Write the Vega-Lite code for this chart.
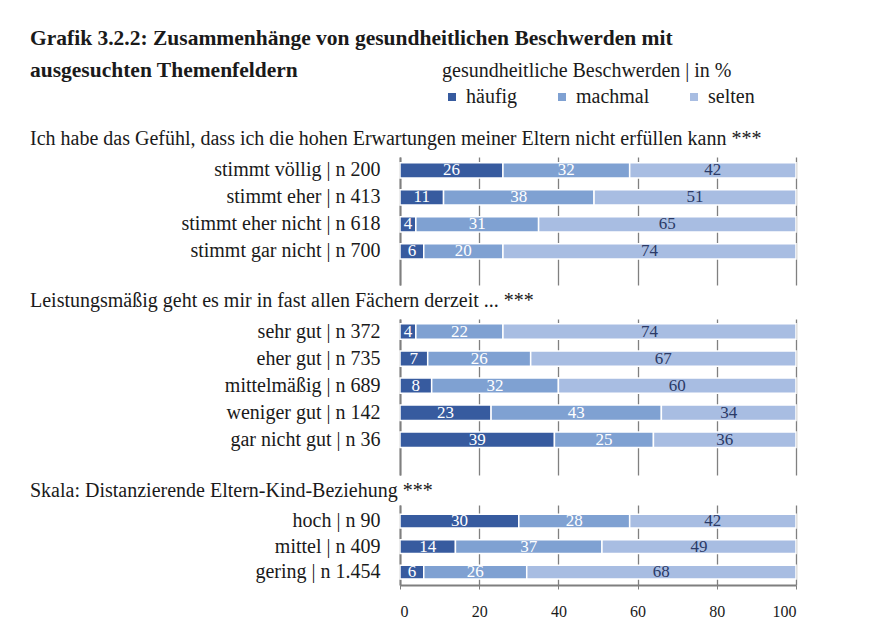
{
  "$schema": "https://vega.github.io/schema/vega-lite/v6.json",
  "padding": {"left": 30, "top": 27, "right": 5, "bottom": 5},
  "background": "white",
  "title": {
    "text": ["Grafik 3.2.2: Zusammenhänge von gesundheitlichen Beschwerden mit", "ausgesuchten Themenfeldern"],
    "anchor": "start", "frame": "group", "dx": -370, "dy": 30, "fontSize": 21.5, "fontWeight": "bold", "lineHeight": 32, "color": "#1a1a1a", "font": "Liberation Serif", "offset": 10
  },
  "datasets": {
    "d": [
      {"g": 1, "c": "stimmt völlig  | n 200", "t": "häufig", "v": 26},
      {"g": 1, "c": "stimmt völlig  | n 200", "t": "machmal", "v": 32},
      {"g": 1, "c": "stimmt völlig  | n 200", "t": "selten", "v": 42},
      {"g": 1, "c": "stimmt eher  | n 413", "t": "häufig", "v": 11},
      {"g": 1, "c": "stimmt eher  | n 413", "t": "machmal", "v": 38},
      {"g": 1, "c": "stimmt eher  | n 413", "t": "selten", "v": 51},
      {"g": 1, "c": "stimmt eher nicht | n 618", "t": "häufig", "v": 4},
      {"g": 1, "c": "stimmt eher nicht | n 618", "t": "machmal", "v": 31},
      {"g": 1, "c": "stimmt eher nicht | n 618", "t": "selten", "v": 65},
      {"g": 1, "c": "stimmt gar nicht | n 700", "t": "häufig", "v": 6},
      {"g": 1, "c": "stimmt gar nicht | n 700", "t": "machmal", "v": 20},
      {"g": 1, "c": "stimmt gar nicht | n 700", "t": "selten", "v": 74},
      {"g": 2, "c": "sehr gut | n 372", "t": "häufig", "v": 4},
      {"g": 2, "c": "sehr gut | n 372", "t": "machmal", "v": 22},
      {"g": 2, "c": "sehr gut | n 372", "t": "selten", "v": 74},
      {"g": 2, "c": "eher gut | n 735", "t": "häufig", "v": 7},
      {"g": 2, "c": "eher gut | n 735", "t": "machmal", "v": 26},
      {"g": 2, "c": "eher gut | n 735", "t": "selten", "v": 67},
      {"g": 2, "c": "mittelmäßig | n 689", "t": "häufig", "v": 8},
      {"g": 2, "c": "mittelmäßig | n 689", "t": "machmal", "v": 32},
      {"g": 2, "c": "mittelmäßig | n 689", "t": "selten", "v": 60},
      {"g": 2, "c": "weniger gut  | n 142", "t": "häufig", "v": 23},
      {"g": 2, "c": "weniger gut  | n 142", "t": "machmal", "v": 43},
      {"g": 2, "c": "weniger gut  | n 142", "t": "selten", "v": 34},
      {"g": 2, "c": "gar nicht gut | n 36", "t": "häufig", "v": 39},
      {"g": 2, "c": "gar nicht gut | n 36", "t": "machmal", "v": 25},
      {"g": 2, "c": "gar nicht gut | n 36", "t": "selten", "v": 36},
      {"g": 3, "c": "hoch | n 90", "t": "häufig", "v": 30},
      {"g": 3, "c": "hoch | n 90", "t": "machmal", "v": 28},
      {"g": 3, "c": "hoch | n 90", "t": "selten", "v": 42},
      {"g": 3, "c": "mittel | n 409", "t": "häufig", "v": 14},
      {"g": 3, "c": "mittel | n 409", "t": "machmal", "v": 37},
      {"g": 3, "c": "mittel | n 409", "t": "selten", "v": 49},
      {"g": 3, "c": "gering | n 1.454", "t": "häufig", "v": 6},
      {"g": 3, "c": "gering | n 1.454", "t": "machmal", "v": 26},
      {"g": 3, "c": "gering | n 1.454", "t": "selten", "v": 68}
    ]
  },
  "data": {"name": "d"},
  "spacing": 6,
  "vconcat": [
    {
      "width": 396, "height": 128,
      "title": {"text": "Ich habe das Gefühl, dass ich die hohen Erwartungen meiner Eltern nicht erfüllen kann ***", "anchor": "start", "frame": "group", "dx": -370, "offset": 8, "fontSize": 20, "fontWeight": "normal", "color": "#1a1a1a", "font": "Liberation Serif"},
      "transform": [
        {"filter": "datum.g == 1"},
        {"stack": "v", "groupby": ["c"], "sort": [{"field": "t"}], "as": ["v0", "v1"]},
        {"calculate": "(datum.v0 + datum.v1) / 2", "as": "m"}
      ],
      "encoding": {
        "y": {"field": "c", "type": "nominal", "sort": ["stimmt völlig  | n 200", "stimmt eher  | n 413", "stimmt eher nicht | n 618", "stimmt gar nicht | n 700"],
          "scale": {"paddingInner": 0.43, "paddingOuter": 0.585, "align": 0.18},
          "axis": {"title": null, "ticks": false, "domainColor": "#7f7f7f", "domainWidth": 2, "labelFont": "Liberation Serif", "labelFontSize": 20, "labelColor": "#1a1a1a", "labelPadding": 20, "labelLimit": 400}}
      },
      "layer": [
        {
          "mark": {"type": "bar", "stroke": "white", "strokeWidth": 1.5},
          "encoding": {
            "x": {"field": "v0", "type": "quantitative", "scale": {"domain": [0, 100]},
              "axis": {"title": null, "labels": false, "ticks": false, "domain": false, "grid": true, "gridColor": "#808080", "gridWidth": 1.3, "values": [0, 20, 40, 60, 80, 100]}},
            "x2": {"field": "v1"},
            "color": {"field": "t", "type": "nominal", "scale": {"domain": ["häufig", "machmal", "selten"], "range": ["#375B9F", "#7FA1D2", "#A8BDE2"]},
              "legend": {"orient": "none", "legendX": 42, "legendY": -96, "direction": "horizontal", "title": "gesundheitliche Beschwerden | in %", "titleLimit": 500, "symbolType": "square", "symbolSize": 64, "symbolStrokeWidth": 0, "labelOffset": 4, "labelFont": "Liberation Serif", "labelFontSize": 20, "labelColor": "#1a1a1a", "titleFont": "Liberation Serif", "titleFontSize": 20, "titleFontWeight": "normal", "titleColor": "#1a1a1a", "columnPadding": 34, "titlePadding": 6}}
          }
        },
        {
          "mark": {"type": "text", "font": "Liberation Serif", "fontSize": 17, "baseline": "middle"},
          "encoding": {
            "x": {"field": "m", "type": "quantitative"},
            "text": {"field": "v"},
            "color": {"condition": {"test": "datum.t == 'selten'", "value": "#2B3A67"}, "value": "white"}
          }
        }
      ]
    },
    {
      "width": 396, "height": 156,
      "title": {"text": "Leistungsmäßig geht es mir in fast allen Fächern derzeit ... ***", "anchor": "start", "frame": "group", "dx": -370, "offset": 8, "fontSize": 20, "fontWeight": "normal", "color": "#1a1a1a", "font": "Liberation Serif"},
      "transform": [
        {"filter": "datum.g == 2"},
        {"stack": "v", "groupby": ["c"], "sort": [{"field": "t"}], "as": ["v0", "v1"]},
        {"calculate": "(datum.v0 + datum.v1) / 2", "as": "m"}
      ],
      "encoding": {
        "y": {"field": "c", "type": "nominal", "sort": ["sehr gut | n 372", "eher gut | n 735", "mittelmäßig | n 689", "weniger gut  | n 142", "gar nicht gut | n 36"],
          "scale": {"paddingInner": 0.43, "paddingOuter": 0.6, "align": 0.15},
          "axis": {"title": null, "ticks": false, "domainColor": "#7f7f7f", "domainWidth": 2, "labelFont": "Liberation Serif", "labelFontSize": 20, "labelColor": "#1a1a1a", "labelPadding": 20, "labelLimit": 400}}
      },
      "layer": [
        {
          "mark": {"type": "bar", "stroke": "white", "strokeWidth": 1.5},
          "encoding": {
            "x": {"field": "v0", "type": "quantitative", "scale": {"domain": [0, 100]},
              "axis": {"title": null, "labels": false, "ticks": false, "domain": false, "grid": true, "gridColor": "#808080", "gridWidth": 1.3, "values": [0, 20, 40, 60, 80, 100]}},
            "x2": {"field": "v1"},
            "color": {"field": "t", "type": "nominal", "scale": {"domain": ["häufig", "machmal", "selten"], "range": ["#375B9F", "#7FA1D2", "#A8BDE2"]},
              "legend": {"orient": "none", "legendX": 42, "legendY": -96, "direction": "horizontal", "title": "gesundheitliche Beschwerden | in %", "titleLimit": 500, "symbolType": "square", "symbolSize": 64, "symbolStrokeWidth": 0, "labelOffset": 4, "labelFont": "Liberation Serif", "labelFontSize": 20, "labelColor": "#1a1a1a", "titleFont": "Liberation Serif", "titleFontSize": 20, "titleFontWeight": "normal", "titleColor": "#1a1a1a", "columnPadding": 34, "titlePadding": 6}}
          }
        },
        {
          "mark": {"type": "text", "font": "Liberation Serif", "fontSize": 17, "baseline": "middle"},
          "encoding": {
            "x": {"field": "m", "type": "quantitative"},
            "text": {"field": "v"},
            "color": {"condition": {"test": "datum.t == 'selten'", "value": "#2B3A67"}, "value": "white"}
          }
        }
      ]
    },
    {
      "width": 396, "height": 80,
      "title": {"text": "Skala: Distanzierende Eltern-Kind-Beziehung ***", "anchor": "start", "frame": "group", "dx": -370, "offset": 4, "fontSize": 20, "fontWeight": "normal", "color": "#1a1a1a", "font": "Liberation Serif"},
      "transform": [
        {"filter": "datum.g == 3"},
        {"stack": "v", "groupby": ["c"], "sort": [{"field": "t"}], "as": ["v0", "v1"]},
        {"calculate": "(datum.v0 + datum.v1) / 2", "as": "m"}
      ],
      "encoding": {
        "y": {"field": "c", "type": "nominal", "sort": ["hoch | n 90", "mittel | n 409", "gering | n 1.454"],
          "scale": {"paddingInner": 0.46, "paddingOuter": 0.3, "align": 0.6},
          "axis": {"title": null, "ticks": false, "domainColor": "#7f7f7f", "domainWidth": 2, "labelFont": "Liberation Serif", "labelFontSize": 20, "labelColor": "#1a1a1a", "labelPadding": 20, "labelLimit": 400}}
      },
      "layer": [
        {
          "mark": {"type": "bar", "stroke": "white", "strokeWidth": 1.5},
          "encoding": {
            "x": {"field": "v0", "type": "quantitative", "scale": {"domain": [0, 100]},
              "axis": {"title": null, "grid": true, "gridColor": "#808080", "gridWidth": 1.3, "values": [0, 20, 40, 60, 80, 100], "domainColor": "#7f7f7f", "domainWidth": 2, "tickColor": "#7f7f7f", "tickSize": 4, "labelFont": "Liberation Serif", "labelFontSize": 16, "labelColor": "#1a1a1a", "labelPadding": 14}},
            "x2": {"field": "v1"},
            "color": {"field": "t", "type": "nominal", "scale": {"domain": ["häufig", "machmal", "selten"], "range": ["#375B9F", "#7FA1D2", "#A8BDE2"]},
              "legend": {"orient": "none", "legendX": 42, "legendY": -96, "direction": "horizontal", "title": "gesundheitliche Beschwerden | in %", "titleLimit": 500, "symbolType": "square", "symbolSize": 64, "symbolStrokeWidth": 0, "labelOffset": 4, "labelFont": "Liberation Serif", "labelFontSize": 20, "labelColor": "#1a1a1a", "titleFont": "Liberation Serif", "titleFontSize": 20, "titleFontWeight": "normal", "titleColor": "#1a1a1a", "columnPadding": 34, "titlePadding": 6}}
          }
        },
        {
          "mark": {"type": "text", "font": "Liberation Serif", "fontSize": 17, "baseline": "middle"},
          "encoding": {
            "x": {"field": "m", "type": "quantitative"},
            "text": {"field": "v"},
            "color": {"condition": {"test": "datum.t == 'selten'", "value": "#2B3A67"}, "value": "white"}
          }
        }
      ]
    }
  ],
  "config": {"view": {"stroke": null}, "font": "Liberation Serif"}
}
